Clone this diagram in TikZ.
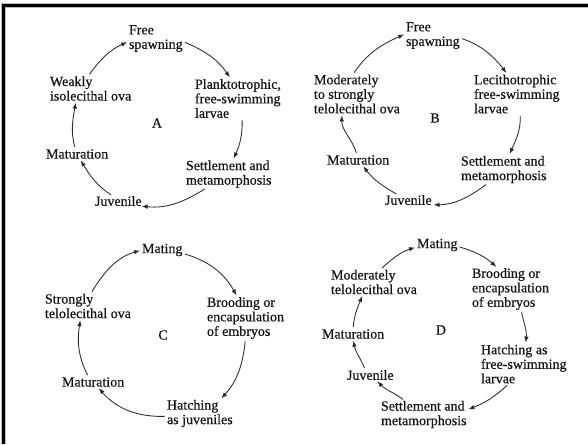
\documentclass[tikz,border=0pt]{standalone}
\usepackage{fontspec}
\setmainfont{Liberation Serif}[FakeBold=0.5]
\usetikzlibrary{arrows.meta}
\definecolor{ink}{HTML}{141414}
\definecolor{arrowink}{HTML}{2A2A2A}
\tikzset{
  lbl/.style={anchor=west, align=left, inner sep=0pt, outer sep=0pt, text=ink,
    font=\fontsize{14}{14.5}\selectfont},
  letter/.style={anchor=center, inner sep=0pt, text=ink, font=\fontsize{14}{14.5}\selectfont},
  arr/.style={draw=arrowink, line width=0.85pt, shorten <=2.5pt, shorten >=2pt,
    -{Latex[length=6pt,width=4.5pt]}},
}
\begin{document}
\begin{tikzpicture}[x=1pt,y=1pt]
\useasboundingbox (0,0) rectangle (588,-444);
\fill[white] (0,0) rectangle (588,-444);
% frame
\draw[gray!55, line width=4.5pt] (3.5,-444) -- (3.5,-5.5) -- (588,-5.5);
\draw[black, line width=2.6pt] (3.5,-444) -- (3.5,-5.5) -- (588,-5.5);

% ---------- Panel A ----------
\node[lbl] (fsA) at (129,-38.5) {Free\\spawning};
\node[lbl] (paA) at (195,-98.5) {Planktotrophic,\\free-swimming\\larvae};
\node[lbl] (stA) at (186,-174) {Settlement and\\metamorphosis};
\node[lbl] (juA) at (95,-201) {Juvenile};
\node[lbl] (maA) at (46,-154) {Maturation};
\node[lbl] (weA) at (50,-88.5) {Weakly\\isolecithal ova};
\node[letter] (lA) at (157,-123) {A};
\draw[arr] (fsA.-6) to[out=-23,in=124] (paA.110);
\draw[arr] (paA.-78) to[out=-89,in=65] (stA.74);
\draw[arr] (stA.-148) to[out=-148,in=-6] (juA.-13);
\draw[arr] (juA.137) to[out=147,in=-59] (maA.-61);
\draw[arr] (maA.110) to[out=105,in=-100] (weA.-140);
\draw[arr] (weA.102) to[out=54,in=204] (fsA.186);

% ---------- Panel B ----------
\node[lbl] (fsB) at (406,-35.5) {Free\\spawning};
\node[lbl] (leB) at (474,-94) {Lecithotrophic\\free-swimming\\larvae};
\node[lbl] (stB) at (461,-169.5) {Settlement and\\metamorphosis};
\node[lbl] (juB) at (385,-200) {Juvenile};
\node[lbl] (maB) at (327,-160) {Maturation};
\node[lbl] (moB) at (314,-94) {Moderately\\to strongly\\telolecithal ova};
\node[letter] (lB) at (435,-118) {B};
\draw[arr] (fsB.-5) to[out=-19,in=128] (leB.115);
\draw[arr] (leB.-80) to[out=-88,in=66] (stB.70);
\draw[arr] (stB.-139) to[out=-144,in=1] (juB.-12);
\draw[arr] (juB.154) to[out=150,in=-53] (maB.-50);
\draw[arr] (maB.102) to[out=107,in=-90] (moB.-128);
\draw[arr] (moB.102) to[out=56,in=204] (fsB.176);

% ---------- Panel C ----------
\node[lbl] (maC) at (142,-250) {Mating};
\node[lbl] (brC) at (207,-318) {Brooding or\\encapsulation\\of embryos};
\node[lbl] (haC) at (167,-413.5) {Hatching\\as juveniles};
\node[lbl] (mtC) at (62,-382) {Maturation};
\node[lbl] (soC) at (45,-306) {Strongly\\telolecithal ova};
\node[letter] (lC) at (163,-335) {C};
\draw[arr] (maC.-9) to[out=-17,in=119] (brC.111);
\draw[arr] (brC.-90) to[out=-96,in=48] (haC.34);
\draw[arr] (haC.185) to[out=-179,in=-49] (mtC.-47);
\draw[arr] (mtC.133) to[out=117,in=-99] (soC.-121);
\draw[arr] (soC.78) to[out=58,in=196] (maC.180);

% ---------- Panel D ----------
\node[lbl] (maD) at (417,-245) {Mating};
\node[lbl] (brD) at (472,-289) {Brooding or\\encapsulation\\of embryos};
\node[lbl] (haD) at (481,-364) {Hatching as\\free-swimming\\larvae};
\node[lbl] (stD) at (381,-414.5) {Settlement and\\metamorphosis};
\node[lbl] (juD) at (347,-375) {Juvenile};
\node[lbl] (mtD) at (322,-334) {Maturation};
\node[lbl] (moD) at (331,-282) {Moderately\\telolecithal ova};
\node[letter] (lD) at (441,-330) {D};
\draw[arr] (maD.-4) to[out=-16,in=139] (brD.121);
\draw[arr] (brD.-63) to[out=-79,in=83] (haD.85);
\draw[arr] (haD.-127) to[out=-137,in=21] (stD.6);
\draw[arr] (stD.144) to[out=143,in=-46] (juD.-41);
\draw[arr] (juD.134) to[out=114,in=-80] (mtD.-90);
\draw[arr] (mtD.90) to[out=86,in=-112] (moD.-132);
\draw[arr] (moD.63) to[out=43,in=198] (maD.185);
\end{tikzpicture}
\end{document}
